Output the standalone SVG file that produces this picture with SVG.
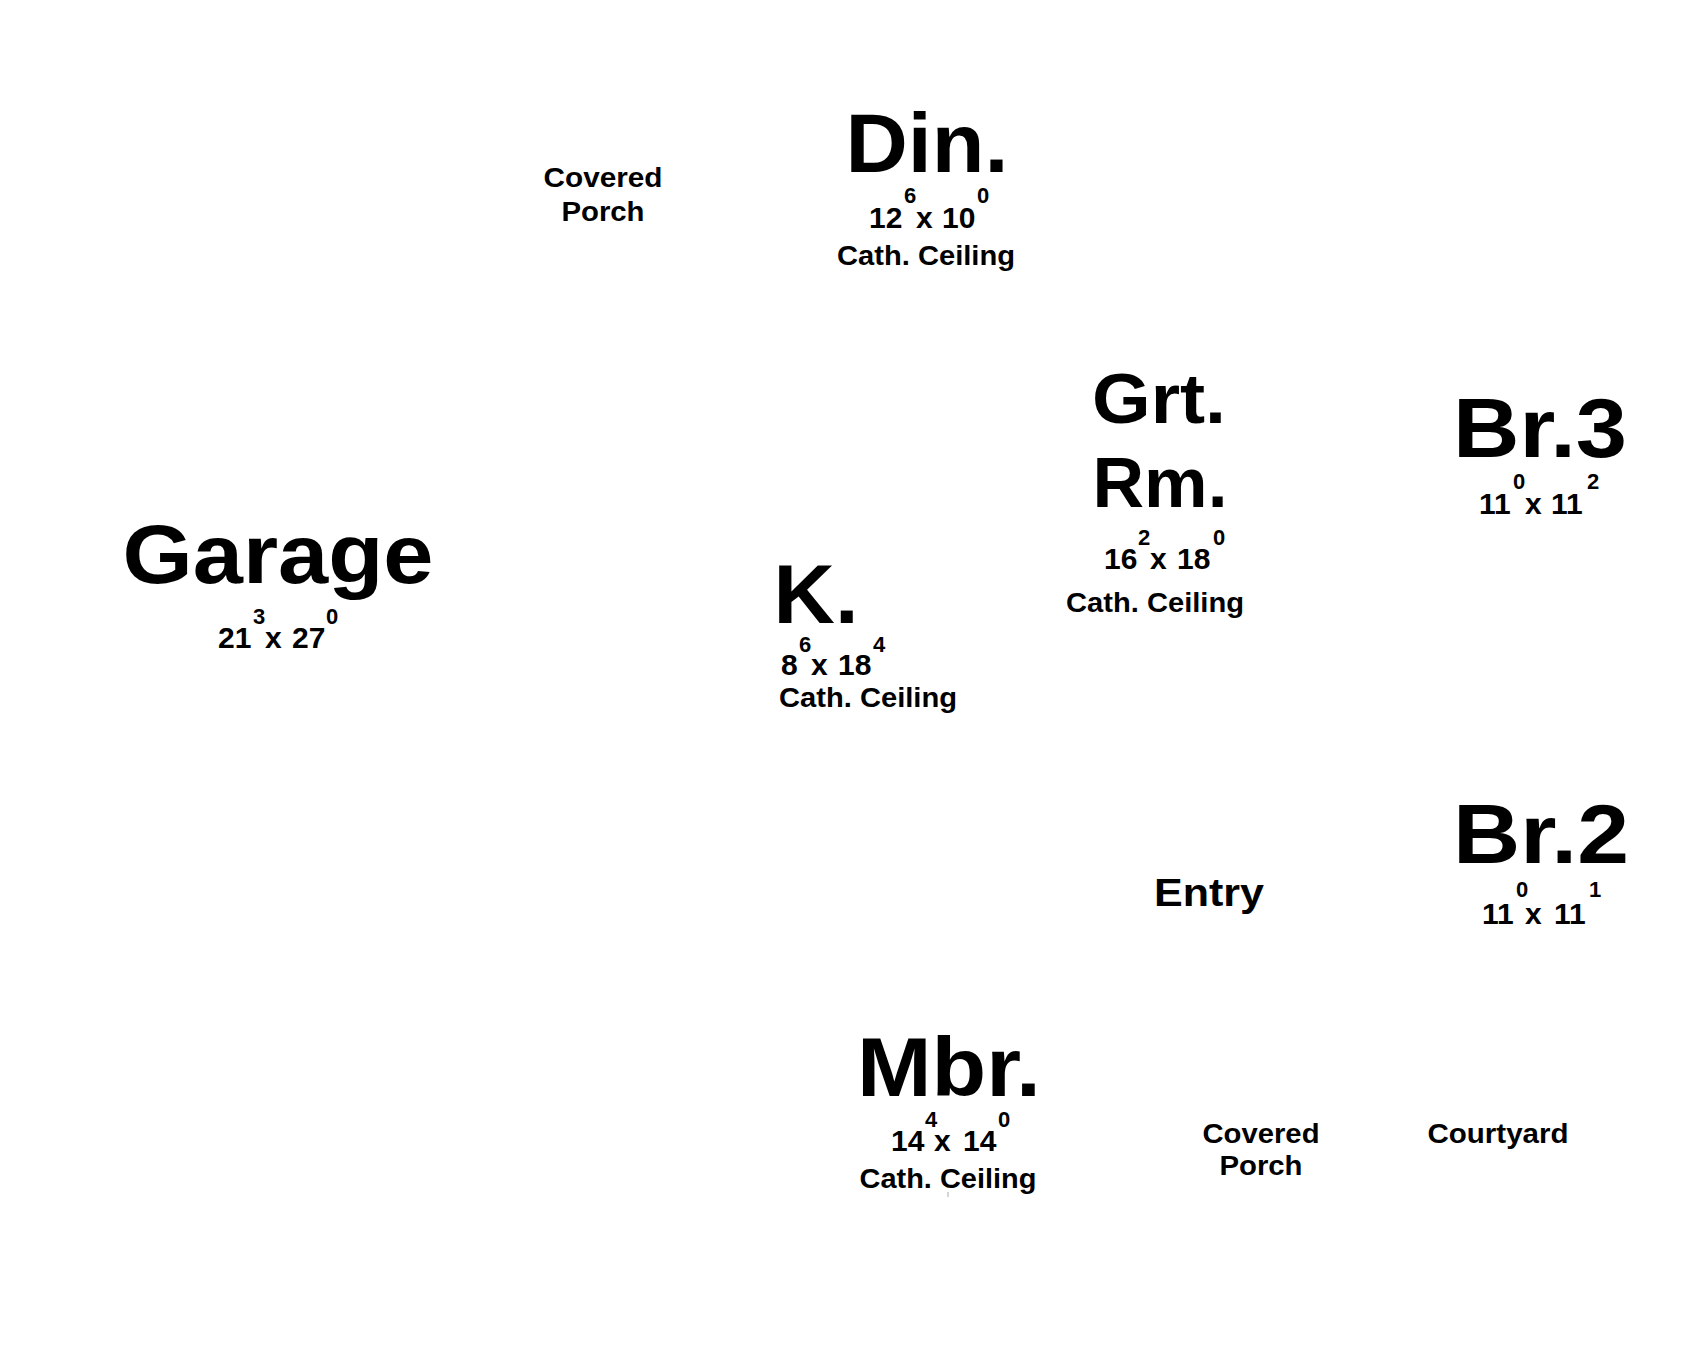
<svg xmlns="http://www.w3.org/2000/svg" width="1692" height="1348" viewBox="0 0 1692 1348">
<style>
text{font-family:"Liberation Sans",Arial,sans-serif;font-weight:bold;fill:#000;}
.big{font-size:84px;}
.mid{font-size:70px;}
.ent{font-size:39px;}
.sm{font-size:27px;}
.dim{font-size:30px;}
.sup{font-size:22px;}
.c{text-anchor:middle;}
</style>
<rect width="1692" height="1348" fill="#fff"/>
<g id="connectors"/>
<g id="porch-top">
<text class="sm c" x="603" y="187" textLength="119" lengthAdjust="spacingAndGlyphs">Covered</text>
<text class="sm c" x="603" y="221" textLength="83" lengthAdjust="spacingAndGlyphs">Porch</text>
</g>
<g id="din">
<text class="big c" x="927" y="172" textLength="163" lengthAdjust="spacingAndGlyphs">Din.</text>
<text class="dim" x="869" y="228">12</text>
<text class="sup" x="904" y="203">6</text>
<text class="dim" x="916" y="228">x</text>
<text class="dim" x="942" y="228">10</text>
<text class="sup" x="977" y="203">0</text>
<text class="sm c" x="926" y="265" textLength="178" lengthAdjust="spacingAndGlyphs">Cath. Ceiling</text>
</g>
<g id="grt">
<text class="mid c" x="1159" y="423" textLength="134" lengthAdjust="spacingAndGlyphs">Grt.</text>
<text class="mid c" x="1160" y="507" textLength="135" lengthAdjust="spacingAndGlyphs">Rm.</text>
<text class="dim" x="1104" y="569">16</text>
<text class="sup" x="1138" y="545">2</text>
<text class="dim" x="1150" y="569">x</text>
<text class="dim" x="1177" y="569">18</text>
<text class="sup" x="1213" y="545">0</text>
<text class="sm c" x="1155" y="612" textLength="178" lengthAdjust="spacingAndGlyphs">Cath. Ceiling</text>
</g>
<g id="br3">
<text class="big c" x="1540" y="457" textLength="174" lengthAdjust="spacingAndGlyphs">Br.3</text>
<text class="dim" x="1479" y="514">11</text>
<text class="sup" x="1513" y="489">0</text>
<text class="dim" x="1525" y="514">x</text>
<text class="dim" x="1551" y="514">11</text>
<text class="sup" x="1587" y="489">2</text>
</g>
<g id="garage">
<text class="big c" x="278" y="583" textLength="311" lengthAdjust="spacingAndGlyphs">Garage</text>
<text class="dim" x="218" y="648">21</text>
<text class="sup" x="253" y="624">3</text>
<text class="dim" x="265" y="648">x</text>
<text class="dim" x="292" y="648">27</text>
<text class="sup" x="326" y="624">0</text>
</g>
<g id="kitchen">
<text class="big c" x="816" y="623" textLength="85" lengthAdjust="spacingAndGlyphs">K.</text>
<text class="dim" x="781" y="675">8</text>
<text class="sup" x="799" y="652">6</text>
<text class="dim" x="811" y="675">x</text>
<text class="dim" x="838" y="675">18</text>
<text class="sup" x="873" y="652">4</text>
<text class="sm c" x="868" y="707" textLength="178" lengthAdjust="spacingAndGlyphs">Cath. Ceiling</text>
</g>
<g id="entry">
<text class="ent c" x="1209" y="906" textLength="110" lengthAdjust="spacingAndGlyphs">Entry</text>
</g>
<g id="br2">
<text class="big c" x="1541" y="863" textLength="176" lengthAdjust="spacingAndGlyphs">Br.2</text>
<text class="dim" x="1482" y="924">11</text>
<text class="sup" x="1516" y="897">0</text>
<text class="dim" x="1525" y="924">x</text>
<text class="dim" x="1554" y="924">11</text>
<text class="sup" x="1589" y="897">1</text>
</g>
<g id="mbr">
<text class="big c" x="949" y="1096" textLength="184" lengthAdjust="spacingAndGlyphs">Mbr.</text>
<text class="dim" x="891" y="1151">14</text>
<text class="sup" x="925" y="1127">4</text>
<text class="dim" x="934" y="1151">x</text>
<text class="dim" x="963" y="1151">14</text>
<text class="sup" x="998" y="1127">0</text>
<text class="sm c" x="948" y="1188" textLength="177" lengthAdjust="spacingAndGlyphs">Cath. Ceiling</text>
<line x1="948" y1="1192" x2="948" y2="1197" stroke="#aaa" stroke-width="1"/>
</g>
<g id="porch-bottom">
<text class="sm c" x="1261" y="1143" textLength="117" lengthAdjust="spacingAndGlyphs">Covered</text>
<text class="sm c" x="1261" y="1175" textLength="83" lengthAdjust="spacingAndGlyphs">Porch</text>
</g>
<g id="courtyard">
<text class="sm c" x="1498" y="1143" textLength="141" lengthAdjust="spacingAndGlyphs">Courtyard</text>
</g>
</svg>
